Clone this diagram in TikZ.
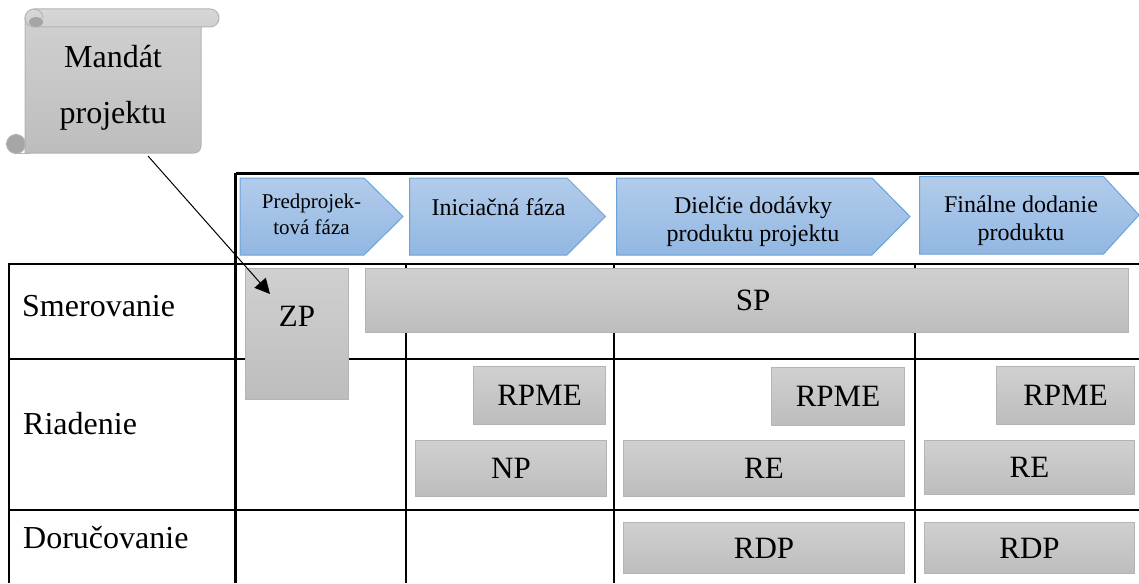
\documentclass[tikz,border=0pt]{standalone}
\usepackage{fontspec}
\setmainfont{Liberation Serif}
\usepackage{tikz}
\usetikzlibrary{arrows.meta}

\definecolor{greytop}{HTML}{D0D0D0}
\definecolor{greybottom}{HTML}{BDBDBD}
\definecolor{greyline}{HTML}{B4B4B4}
\definecolor{greycurl}{HTML}{A5A5A5}
\definecolor{bluetop}{HTML}{B2CCEB}
\definecolor{bluebottom}{HTML}{92B7E2}
\definecolor{blueline}{HTML}{6AA3D8}

\tikzset{
    gridline/.style={black, line width=2.4pt},
    greybox/.style={draw=greyline, line width=1pt, top color=greytop, bottom color=greybottom, inner sep=0pt, font=\fontsize{31}{34}\selectfont},
    phaseshape/.style={draw=blueline, line width=1pt, top color=bluetop, bottom color=bluebottom, line join=miter},
    phasetext/.style={align=center, inner sep=0pt, font=\fontsize{24}{28}\selectfont},
    rowlabel/.style={anchor=west, inner sep=0pt, font=\fontsize{32}{36}\selectfont}
}

\begin{document}
\begin{tikzpicture}[x=1pt, y=-1pt]

    \useasboundingbox (0,0) rectangle (1139,583);

    % Draw table lines
    \draw[gridline] (235.5,173.5) -- (1139,173.5);
    \draw[gridline] (9,264) -- (1139,264);
    \draw[gridline] (9,359) -- (1139,359);
    \draw[gridline] (9,510) -- (1139,510);
    \draw[gridline] (9,263) -- (9,583);
    \draw[gridline] (235.5,172.5) -- (235.5,583);
    \draw[gridline] (406,264) -- (406,583);
    \draw[gridline] (614,264) -- (614,583);
    \draw[gridline] (915,264) -- (915,583);

    % Draw row labels
    \node[rowlabel] (smerovanie) at (22,306) {Smerovanie};
    \node[rowlabel] (riadenie) at (23,424) {Riadenie};
    \node[rowlabel] (dorucovanie) at (23,538) {Doručovanie};

    % Draw phase arrows
    \draw[phaseshape] (240,178) -- (364,178) -- (403,216.5) -- (364,255) -- (240,255) -- cycle;
    \draw[phaseshape] (409.5,178) -- (567,178) -- (605.5,216.5) -- (567,255) -- (409.5,255) -- cycle;
    \draw[phaseshape] (616.5,178) -- (872,178) -- (910,216.5) -- (872,255) -- (616.5,255) -- cycle;
    \draw[phaseshape] (919.5,176.5) -- (1103.5,176.5) -- (1139,215) -- (1103.5,254) -- (919.5,254) -- cycle;

    % Draw phase labels
    \node[phasetext, font=\fontsize{21}{26}\selectfont] (predprojekt) at (311.5,214) {Predprojek-\\tová fáza};
    \node[phasetext] (iniciacna) at (498.5,207) {Iniciačná fáza};
    \node[phasetext] (dielcie) at (753,222) {Dielčie dodávky\\produktu projektu};
    \node[phasetext] (finalne) at (1021,221) {Finálne dodanie\\produktu};

    % Draw boxes of the rows
    \node[greybox, anchor=north west, minimum width=103pt, minimum height=131pt, text depth=36pt] (zp) at (245,268) {ZP};
    \node[greybox, anchor=north west, minimum width=763pt, minimum height=64pt] (sp) at (365,268) {\hspace{12pt}SP};
    \node[greybox, anchor=north west, minimum width=132pt, minimum height=58pt] (rpmeA) at (473,366) {RPME};
    \node[greybox, anchor=north west, minimum width=133pt, minimum height=58pt] (rpmeB) at (771,367) {RPME};
    \node[greybox, anchor=north west, minimum width=138pt, minimum height=58pt] (rpmeC) at (996,366) {RPME};
    \node[greybox, anchor=north west, minimum width=191pt, minimum height=56pt] (np) at (415,440) {NP};
    \node[greybox, anchor=north west, minimum width=281pt, minimum height=56pt] (reA) at (623,440) {RE};
    \node[greybox, anchor=north west, minimum width=210pt, minimum height=54pt] (reB) at (924,440) {RE};
    \node[greybox, anchor=north west, minimum width=281pt, minimum height=51pt] (rdpA) at (623,522) {RDP};
    \node[greybox, anchor=north west, minimum width=210pt, minimum height=51pt] (rdpB) at (924,522) {RDP};

    % Draw scroll
    \fill[greycurl, draw=greyline, line width=1pt] (16,144) circle (9.5);
    \draw[draw=greyline, line width=1pt, top color=greytop, bottom color=greybottom] (25,18) -- (25,153) {[rounded corners=7pt] -- (201,153) -- (201,18)} -- cycle;
    \draw[greyline, line width=1pt] (16,153) -- (30,153);
    \draw[draw=greyline, line width=1pt, top color=greytop!85!white, bottom color=greytop, rounded corners=9pt] (25,9) rectangle (219,27);
    \fill[greycurl] (36,22) ellipse (7 and 5);
    \draw[greyline, line width=1pt] (34,9) .. controls (39,9) and (43,13) .. (43,18);
    \node[align=center, inner sep=0pt, font=\fontsize{32}{56}\selectfont] (mandat) at (113,88) {Mandát\\projektu};

    % Draw arrow from the scroll to ZP
    \coordinate (mandatend) at (148,156);
    \coordinate (zptip) at (270,294);
    \draw[-{Triangle[length=15pt,width=15pt]}, line width=1pt] (mandatend) -- (zptip);

\end{tikzpicture}
\end{document}
